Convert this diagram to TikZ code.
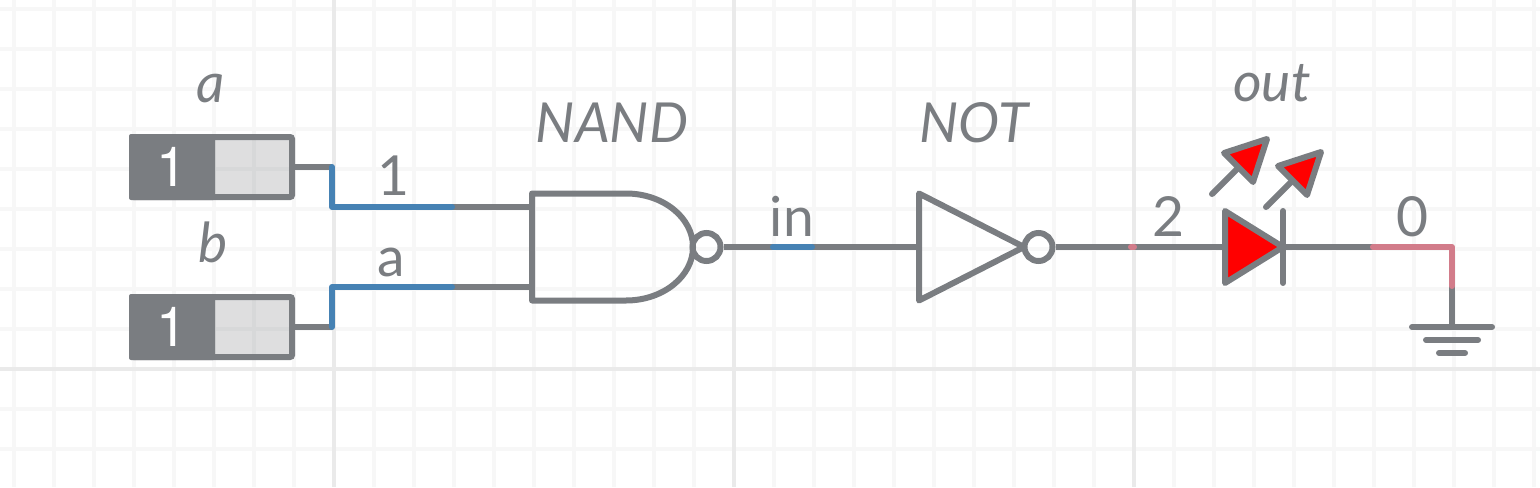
\documentclass[tikz,border=0pt]{standalone}
\usepackage{fontspec}
\setmainfont{Lato}
\newfontfamily\switchfont{TeX Gyre Heros}
\usetikzlibrary{positioning}
\definecolor{wiregray}{HTML}{7A7D81}
\definecolor{netblue}{HTML}{4682B4}
\definecolor{netpink}{HTML}{D27C8A}
\definecolor{ledred}{HTML}{FF0000}
\definecolor{gridminor}{HTML}{F7F7F7}
\definecolor{gridmajor}{HTML}{EAEAEA}

\begin{document}
\begin{tikzpicture}[x=0.5pt,y=-0.5pt,on grid,
  wire/.style={draw=wiregray,line width=3pt},
  hotwire/.style={line width=3pt,line cap=round,line join=round},
  gatebox/.style={inner sep=0pt,outer sep=0pt},
  bubble/.style={circle,draw=wiregray,line width=3pt,inner sep=0pt,outer sep=1.5pt,minimum size=14pt},
  switchbox/.style={draw=wiregray,line width=3pt,fill=wiregray,fill opacity=.25,rounded corners=1pt,inner sep=0pt,outer sep=1.5pt,minimum width=80pt,minimum height=30pt},
  switchon/.style={fill=wiregray,rounded corners=1pt,inner sep=0pt,minimum width=43pt,minimum height=33pt,text=white},
  netlabel/.style={anchor=base,inner sep=0pt,text=wiregray,font=\fontsize{27.6pt}{28pt}\selectfont},
  partlabel/.style={netlabel,font=\fontsize{27.6pt}{28pt}\selectfont\itshape}]
  \useasboundingbox (0,0) rectangle (1540,487);

  % grid
  \foreach \gx in {14,54,...,1534} \draw[gridminor,line width=2pt] (\gx,0) -- (\gx,487);
  \foreach \gy in {9,49,...,449} \draw[gridminor,line width=2pt] (0,\gy) -- (1540,\gy);
  \foreach \gx in {334,734,1134} \draw[gridmajor,line width=2pt] (\gx,0) -- (\gx,487);
  \draw[gridmajor,line width=2pt] (0,369) -- (1540,369);

  % parts
  \node[switchbox] (swa) at (212,167) {};
  \node[switchbox] (swb) [below=80pt of swa] {};
  \node[switchon] (ona) at (172,167) {\switchfont\fontsize{27.6pt}{28pt}\selectfont 1};
  \node[switchon] (onb) at (172,327) {\switchfont\fontsize{27.6pt}{28pt}\selectfont 1};
  \node[gatebox,minimum width=80.5pt,minimum height=53.5pt] (nand) at (612.5,247) {};
  \node[bubble] (nandout) [right=47pt of nand] {};
  \node[gatebox,minimum width=52.5pt,minimum height=53.5pt] (inv) [right=179.5pt of nand] {};
  \node[bubble] (invout) [right=33.5pt of inv] {};
  \node[gatebox,minimum width=29pt,minimum height=36pt] (led) [right=141.25pt of inv] {};

  \draw[wire,line join=round] (nand.north west) -- ([xshift=47pt]nand.north west)
    .. controls ([xshift=65.5pt]nand.north west) and ([yshift=14.7pt]nand.east) .. (nand.east)
    .. controls ([yshift=-14.7pt]nand.east) and ([xshift=65.5pt]nand.south west) .. ([xshift=47pt]nand.south west)
    -- (nand.south west) -- cycle;
  \draw[wire,line join=round] (inv.north west) -- (inv.east) -- (inv.south west) -- cycle;
  \draw[wire,fill=ledred,line join=round] (led.north west) -- (led.east) -- (led.south west) -- cycle;
  \draw[wire,line cap=round] (led.north east) -- (led.south east);

  % light rays of the led
  \foreach \ox/\oy in {0/0,54/13} {
    \draw[wire,line cap=round] (1212+\ox,194+\oy) -- (1239+\ox,167+\oy);
    \draw[wire,fill=ledred,line join=round] (1224+\ox,153+\oy) -- (1267+\ox,139+\oy) -- (1253+\ox,182+\oy) -- cycle;
  }

  % wire corners
  \coordinate (ja1) at (332,167);
  \coordinate (ja2) at (452,207);
  \coordinate (pina) at (nand.west|-ja2);
  \coordinate (jb1) at (332,327);
  \coordinate (jb2) at (452,287);
  \coordinate (pinb) at (nand.west|-jb2);
  \coordinate (inl) at (773,247);
  \coordinate (inr) at (812,247);
  \coordinate (stub) at (1131,247);
  \coordinate (stube) at (1134,247);
  \coordinate (zl) at (1373,247);
  \coordinate (zc) at (1452,247);
  \coordinate (zd) at (1452,286);
  \coordinate (gnd) at (1452,327);
  \coordinate (gnd2) at (1452,340);
  \coordinate (gnd3) at (1452,353);

  \draw[wire] (swa.east) -- (ja1);
  \draw[wire] (swb.east) -- (jb1);
  \draw[wire] (ja2) -- (pina);
  \draw[wire] (jb2) -- (pinb);
  \draw[wire] (nandout) -- (inv.west);
  \draw[wire] (invout) -- (led.west);
  \draw[wire] (led.east) -- (zl);
  \draw[wire] (zd) -- (gnd);
  \draw[netblue,hotwire] (ja1) |- (ja2);
  \draw[netblue,hotwire] (jb1) |- (jb2);
  \draw[netblue,hotwire] (inl) -- (inr);
  \draw[netpink,hotwire] (stub) -- (stube);
  \draw[netpink,hotwire] (zl) -- (zc) -- (zd);

  % ground
  \draw[wire,line cap=round] ([xshift=-20pt]gnd) -- ([xshift=20pt]gnd);
  \draw[wire,line cap=round] ([xshift=-13pt]gnd2) -- ([xshift=13pt]gnd2);
  \draw[wire,line cap=round] ([xshift=-6.5pt]gnd3) -- ([xshift=6.5pt]gnd3);

  % labels
  \node[partlabel] (la) at (211,102) {a};
  \node[partlabel] (lb) at (213,262) {b};
  \node[partlabel] (lnand) at (612,142) {NAND};
  \node[partlabel] (lnot) at (974,142) {NOT};
  \node[partlabel] (lout) at (1272,101) {out};
  \node[netlabel] (n1) at (394,195) {1};
  \node[netlabel] (na) at (391,276) {a};
  \node[netlabel] (nin) at (792,236) {in};
  \node[netlabel] (n2) at (1168,236) {2};
  \node[netlabel] (n0) at (1412,236) {0};
\end{tikzpicture}
\end{document}
